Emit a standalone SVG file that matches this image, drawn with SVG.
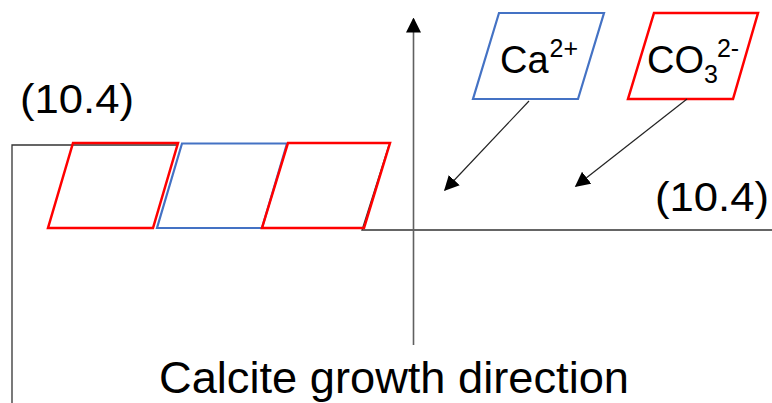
<svg xmlns="http://www.w3.org/2000/svg" width="772" height="403" viewBox="0 0 772 403">
<style>
.t{font-family:"Liberation Sans","Open Sans",sans-serif;fill:#000}
.red{fill:none;stroke:#FF0000;stroke-width:2.5}
.blue{fill:none;stroke:#4472C4;stroke-width:2.2}
.ln{fill:none;stroke:#333;stroke-width:1.3}
.ar{fill:none;stroke:#222;stroke-width:1.2}
</style>
<defs>
<marker id="ah2" viewBox="0 0 10 10" refX="9" refY="5" markerWidth="15" markerHeight="15" markerUnits="userSpaceOnUse" orient="auto">
<path d="M0,0 L10,5 L0,10 Z" fill="#000"/>
</marker>
</defs>
<g id="surface">
<path class="ln" d="M12,403 V145 H178"/>
<path class="ln" d="M389,145 L362,230 H772"/>
</g>
<g id="label-left"><text class="t" x="20" y="113" font-size="40" textLength="114" lengthAdjust="spacingAndGlyphs">(10.4)</text></g>
<g id="label-right"><text class="t" x="655" y="211" font-size="40" textLength="114" lengthAdjust="spacingAndGlyphs">(10.4)</text></g>
<g id="cell1"><polygon class="red" points="73,143 178,143 153,228 48,228"/></g>
<g id="cell2"><polygon class="blue" points="182,143.5 287,143.5 262,228 157,228"/></g>
<g id="cell3"><polygon class="red" points="288,143 390,143 364,228 262,228"/></g>
<g id="ca">
<polygon class="blue" points="499,13 604,13 578,99 473,99"/>
<text class="t" x="500" y="73" font-size="38">Ca<tspan font-size="25" dy="-16" dx="1">2+</tspan></text>
</g>
<g id="co3">
<polygon class="red" points="654,13 758,13 733,99 628,99"/>
<text class="t" x="647" y="73" font-size="38">CO<tspan font-size="25" dy="10">3</tspan><tspan font-size="25" dy="-26" dx="-1">2-</tspan></text>
</g>
<g id="connectors">
<line class="ar" x1="529" y1="101" x2="445" y2="190" marker-end="url(#ah2)"/>
<line class="ar" x1="687" y1="99" x2="576" y2="186" marker-end="url(#ah2)"/>
<line x1="413.5" y1="345" x2="413.5" y2="19" stroke="#606060" stroke-width="1.6" marker-end="url(#ah2)"/>
</g>
<g id="caption"><text class="t" x="159" y="393" font-size="45" textLength="470" lengthAdjust="spacingAndGlyphs">Calcite growth direction</text></g>
</svg>
